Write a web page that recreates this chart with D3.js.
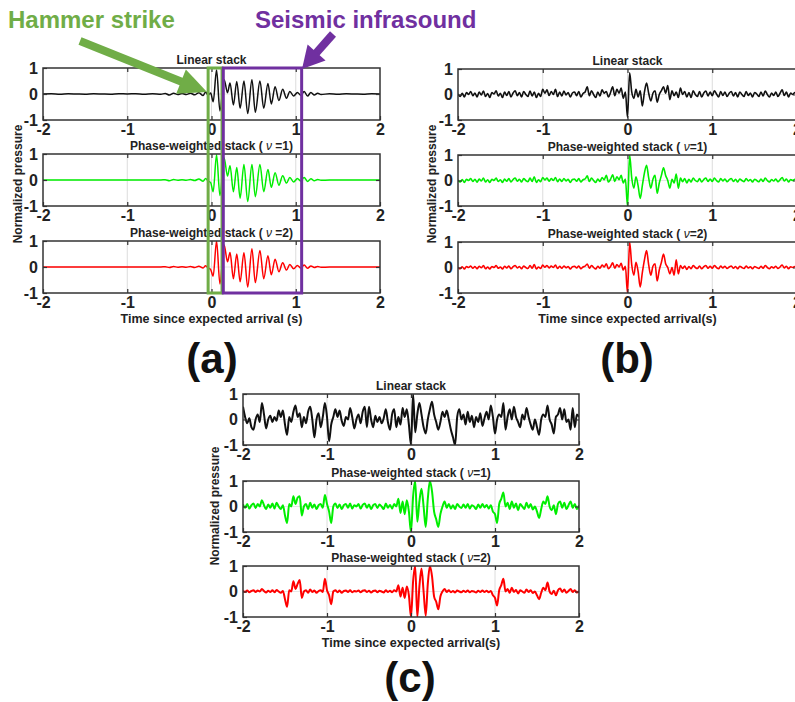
<!DOCTYPE html>
<html>
<head>
<meta charset="utf-8">
<script src="https://cdn.jsdelivr.net/npm/d3@7"></script>
<style>
  body { margin: 0; background: #fff; }
  text { font-family: "Liberation Sans", Arial, Helvetica, sans-serif; }
</style>
</head>
<body>
<div id="chart"></div>
<script>
// ---- data ----------------------------------------------------------------
// Panel (a): times of the samples / turning points (s)
const timesA = [
  -2, -1.9, -1.8, -1.7, -1.6, -1.5, -1.4, -1.3, -1.2, -1.1, -1, -0.9, -0.8, -0.7, -0.6,
  -0.55, -0.5, -0.45, -0.4, -0.35, -0.3, -0.25, -0.2, -0.15, -0.1,
  -0.07, -0.04, -0.01,
  0.02, 0.06, 0.1,
  0.15, 0.19, 0.22, 0.26, 0.3, 0.34, 0.385, 0.43, 0.48, 0.52,
  0.575, 0.62, 0.67, 0.71, 0.755, 0.8, 0.845, 0.89, 0.93, 0.975,
  1.02, 1.06, 1.1, 1.14, 1.18, 1.22, 1.26, 1.3,
  1.4, 1.5, 1.6, 1.7, 1.8, 1.9, 2
];
const linearA = [
  0, 0.01, -0.01, 0.01, 0, -0.01, 0.01, 0, -0.01, 0.01, 0, 0.01, -0.01, 0.01, -0.01,
  0.02, -0.04, 0.03, -0.02, 0.02, -0.02, 0.03, -0.03, 0.05, -0.06,
  0.08, -0.05, 0.04,
  -0.3, 0.92, -0.65,
  0.55, 0.05, 0.42, -0.42, 0.48, -0.55, 0.5, -0.75, 0.55, -0.7,
  0.5, -0.55, 0.4, -0.38, 0.28, -0.25, 0.18, -0.16, 0.1, -0.08,
  0.06, -0.05, 0.1, -0.08, 0.06, -0.04, 0.03, -0.02,
  0.01, -0.01, 0.01, 0, -0.01, 0.01, 0
];
const pws1A = [
  0, 0, 0, 0, 0, 0, 0, 0, 0, 0, 0, 0, 0, 0, 0,
  0.01, -0.03, 0.02, -0.01, 0.01, -0.01, 0.02, -0.02, 0.04, -0.05,
  0.06, -0.04, -0.1,
  -0.45, 0.97, -0.6,
  0.85, 0.15, 0.55, -0.45, 0.48, -0.7, 0.6, -0.83, 0.6, -0.64,
  0.6, -0.45, 0.4, -0.28, 0.28, -0.2, 0.16, -0.12, 0.1, -0.08,
  0.06, -0.04, 0.1, -0.06, 0.05, -0.03, 0.02, -0.01,
  0, 0, 0, 0, 0, 0, 0
];
const pws2A = [
  0, 0, 0, 0, 0, 0, 0, 0, 0, 0, 0, 0, 0, 0, 0,
  0.01, -0.02, 0.02, -0.01, 0.01, -0.01, 0.02, -0.02, 0.03, -0.04,
  0.05, -0.04, -0.1,
  -0.35, 1.0, -0.65,
  0.85, 0.2, 0.56, -0.45, 0.5, -0.57, 0.55, -0.77, 0.7, -0.6,
  0.63, -0.45, 0.43, -0.3, 0.3, -0.18, 0.16, -0.12, 0.1, -0.07,
  0.06, -0.04, 0.08, -0.05, 0.04, -0.02, 0.02, -0.01,
  0, 0, 0, 0, 0, 0, 0
];

// Panels (b) and (c): samples every 0.025 s from -2 s to 2 s
const sampleStart = -2;
const sampleStep = 0.025;

const linearB = [
  0.02, -0.08, 0.05, -0.1, 0.08, 0.0, 0.12, -0.05, 0.06, -0.1,
  0.1, -0.02, 0.14, -0.08, 0.04, -0.12, 0.08, 0.02, 0.15, -0.06,
  0.05, -0.12, 0.1, -0.04, 0.12, -0.1, 0.06, 0.15, -0.05, 0.08,
  -0.1, 0.12, 0.0, -0.08, 0.14, -0.06, 0.1, -0.12, 0.05, -0.08,
  0.2, 0.05, 0.18, -0.04, 0.12, 0.0, 0.2, -0.08, 0.1, -0.06,
  0.14, -0.02, 0.08, -0.1, 0.06, 0.1, -0.05, 0.12, -0.1, 0.04,
  0.1, 0.3, -0.05, 0.15, 0.0, -0.12, 0.1, -0.06, 0.18, 0.05,
  0.12, -0.1, 0.08, 0.3, -0.05, 0.2, 0.05, 0.25, -0.15, 0.1,
  -0.9, 0.85, 0.1, -0.15, 0.2, -0.1, 0.15, -0.45, 0.1, 0.45,
  0.05, -0.25, 0.05, 0.15, -0.3, 0.0, 0.15, 0.3, 0.05, 0.35,
  -0.2, 0.15, -0.05, 0.1, -0.12, 0.25, 0.0, 0.12, -0.1, 0.08,
  -0.12, 0.15, 0.0, -0.08, 0.12, -0.1, 0.06, 0.14, -0.06, 0.1,
  -0.05, 0.15, 0.02, -0.1, 0.12, -0.04, 0.1, -0.08, 0.05, 0.12,
  -0.06, 0.08, -0.1, 0.1, 0.0, -0.08, 0.12, -0.04, 0.06, -0.1,
  0.08, 0.02, -0.08, 0.1, -0.06, 0.14, 0.0, -0.1, 0.06, -0.04,
  0.1, -0.08, 0.05, 0.18, -0.04, 0.1, -0.1, 0.06, 0.0, 0.08,
  -0.02
];
const pws1B = [
  0.02, -0.06, 0.04, -0.08, 0.05, 0.0, 0.08, -0.04, 0.05, -0.07,
  0.06, -0.02, 0.1, -0.06, 0.03, -0.08, 0.05, 0.0, 0.1, -0.04,
  0.03, -0.08, 0.06, -0.03, 0.08, -0.06, 0.04, 0.1, -0.03, 0.05,
  -0.06, 0.08, 0.0, -0.05, 0.1, -0.04, 0.15, -0.08, 0.03, -0.05,
  0.12, 0.02, 0.1, -0.03, 0.08, 0.0, 0.12, -0.05, 0.06, -0.04,
  0.08, -0.02, 0.05, -0.08, 0.04, 0.06, -0.03, 0.08, -0.06, 0.03,
  0.06, 0.18, -0.04, 0.1, 0.0, -0.08, 0.06, -0.04, 0.12, 0.03,
  0.2, -0.06, 0.05, 0.22, -0.04, 0.15, 0.03, 0.2, -0.1, 0.06,
  -1.0, 1.0, 0.1, -0.3, 0.15, -0.2, -0.7, -0.2, 0.3, 0.6,
  0.1, -0.3, 0.05, 0.2, -0.5, -0.1, 0.2, 0.5, 0.2, 0.0,
  -0.3, 0.05, -0.1, 0.25, -0.3, 0.1, -0.05, 0.08, -0.1, 0.05,
  -0.06, 0.1, 0.0, -0.05, 0.08, -0.06, 0.04, 0.1, -0.04, 0.06,
  -0.04, 0.1, 0.0, -0.06, 0.08, -0.02, 0.06, -0.05, 0.03, 0.08,
  -0.04, 0.05, -0.06, 0.06, 0.0, -0.05, 0.08, -0.02, 0.04, -0.06,
  0.05, 0.0, -0.05, 0.06, -0.04, 0.1, 0.0, -0.06, 0.04, -0.02,
  0.06, -0.05, 0.03, 0.12, -0.02, 0.06, -0.06, 0.04, 0.0, 0.05,
  -0.02
];
const pws2B = [
  0.01, -0.05, 0.03, -0.06, 0.04, 0.0, 0.06, -0.03, 0.04, -0.05,
  0.05, -0.01, 0.08, -0.05, 0.02, -0.06, 0.04, 0.0, 0.08, -0.03,
  0.02, -0.06, 0.05, -0.02, 0.06, -0.05, 0.03, 0.08, -0.02, 0.04,
  -0.05, 0.06, 0.0, -0.04, 0.08, -0.03, 0.12, -0.06, 0.02, -0.04,
  0.1, 0.01, 0.08, -0.02, 0.06, 0.0, 0.1, -0.04, 0.05, -0.03,
  0.06, -0.01, 0.04, -0.06, 0.03, 0.05, -0.02, 0.06, -0.05, 0.02,
  0.05, 0.14, -0.03, 0.08, 0.0, -0.06, 0.05, -0.03, 0.1, 0.02,
  0.15, -0.05, 0.04, 0.18, -0.03, 0.12, 0.02, 0.16, -0.1, 0.05,
  -1.0, 1.0, 0.1, -0.3, 0.2, -0.15, -0.76, -0.2, 0.3, 0.66,
  0.1, -0.3, 0.05, 0.15, -0.53, -0.1, 0.2, 0.53, 0.15, 0.0,
  -0.25, 0.0, -0.3, 0.3, -0.25, 0.08, -0.04, 0.06, -0.08, 0.04,
  -0.05, 0.08, 0.0, -0.04, 0.06, -0.05, 0.03, 0.08, -0.03, 0.05,
  -0.03, 0.08, 0.0, -0.05, 0.06, -0.02, 0.05, -0.04, 0.02, 0.06,
  -0.03, 0.04, -0.05, 0.05, 0.0, -0.04, 0.06, -0.02, 0.03, -0.05,
  0.04, 0.0, -0.04, 0.05, -0.03, 0.08, 0.0, -0.05, 0.03, -0.02,
  0.05, -0.04, 0.02, 0.1, -0.02, 0.05, -0.05, 0.03, 0.0, 0.04,
  -0.01
];

const linearC = [
  0.5, 0.1, -0.15, 0.05, -0.3, -0.4, 0.0, 0.2, -0.1, 0.65,
  0.2, -0.35, 0.0, 0.15, -0.1, 0.1, -0.05, 0.35, 0.1, 0.35,
  -0.2, -0.6, 0.1, -0.1, 0.3, 0.55, 0.1, 0.25, -0.3, 0.1,
  -0.15, 0.3, 0.5, 0.0, -0.7, 0.0, 0.25, -0.3, 0.1, 0.65,
  0.1, -0.85, -0.2, 0.1, 0.4, 0.1, 0.35, -0.05, -0.25, 0.1,
  0.0, 0.45, 0.1, -0.35, 0.0, 0.2, -0.15, 0.3, 0.5, -0.3,
  0.5, 0.0, -0.3, 0.15, -0.1, 0.1, -0.15, 0.05, 0.4, -0.1,
  -0.4, 0.2, 0.4, -0.3, 0.1, -0.2, 0.45, 0.1, 0.4, -0.2,
  -1.0, 1.0, -0.5, 0.2, 0.65, 0.2, -0.3, -0.55, 0.0, 0.4,
  0.7, 0.2, -0.1, -0.4, -0.1, 0.3, 0.1, 0.35, 0.0, -0.4,
  -0.7, -1.0, 0.1, 0.4, 0.0, 0.2, -0.2, 0.3, -0.1, 0.15,
  -0.3, 0.1, -0.1, 0.25, -0.25, 0.05, 0.3, 0.0, 0.55, 0.1,
  -0.55, 0.0, 0.2, 0.1, 0.65, -0.4, 0.1, 0.4, 0.0, 0.5,
  0.1, -0.1, -0.3, 0.2, 0.0, 0.45, 0.1, -0.2, -0.4, 0.0,
  -0.3, -0.6, 0.0, 0.2, 0.1, 0.55, 0.0, -0.2, -0.55, 0.1,
  0.2, 0.45, 0.0, 0.4, -0.1, 0.0, -0.4, 0.45, -0.3, 0.2,
  0.1
];
const pws1C = [
  0.08, -0.05, 0.1, -0.08, 0.05, 0.12, -0.06, 0.1, 0.0, 0.25,
  0.05, -0.1, 0.08, -0.05, 0.12, -0.08, 0.15, 0.0, -0.1, 0.05,
  -0.35, -0.65, 0.1, 0.0, 0.4, 0.1, 0.35, 0.4, -0.35, 0.0,
  0.1, -0.1, 0.15, -0.05, 0.08, -0.1, 0.05, 0.1, -0.05, 0.45,
  0.1, -0.2, -0.65, 0.0, 0.12, -0.06, 0.08, -0.1, 0.05, 0.1,
  -0.05, 0.12, -0.08, 0.05, 0.0, 0.1, -0.08, 0.06, 0.12, -0.05,
  0.08, -0.1, 0.05, 0.1, -0.06, 0.08, 0.0, -0.1, 0.12, -0.05,
  0.06, -0.08, 0.1, 0.0, 0.3, -0.25, 0.2, -0.3, 0.25, -0.2,
  -1.0, 0.4, 1.0, -0.6, 0.2, 0.7, 0.0, -0.8, 0.3, 1.0,
  0.6, -0.2, -0.5, -0.8, -0.3, 0.0, 0.2, -0.05, 0.1, -0.08,
  0.05, -0.1, 0.1, 0.0, -0.06, 0.08, -0.05, 0.1, -0.08, 0.05,
  0.0, -0.1, 0.08, -0.05, 0.1, -0.04, 0.06, -0.08, 0.05, -0.2,
  -0.3, -0.65, 0.1, 0.3, 0.55, 0.0, 0.15, -0.1, 0.2, -0.05,
  0.12, -0.15, 0.1, 0.0, -0.1, 0.15, -0.05, 0.1, -0.12, 0.0,
  -0.2, -0.45, -0.1, 0.2, 0.1, 0.4, 0.0, -0.15, 0.05, -0.3,
  0.1, 0.2, -0.05, 0.15, -0.1, 0.05, 0.2, -0.05, 0.1, -0.1,
  0.05
];
const pws2C = [
  0.03, -0.02, 0.04, -0.03, 0.02, 0.05, -0.02, 0.04, 0.0, 0.1,
  0.02, -0.04, 0.03, -0.02, 0.05, -0.03, 0.06, 0.0, -0.05, 0.02,
  -0.3, -0.6, 0.05, 0.0, 0.4, 0.1, 0.3, 0.45, -0.25, 0.0,
  0.05, -0.05, 0.08, -0.02, 0.04, -0.05, 0.02, 0.05, -0.02, 0.5,
  0.05, -0.15, -0.5, 0.0, 0.05, -0.03, 0.04, -0.05, 0.02, 0.04,
  -0.02, 0.05, -0.03, 0.02, 0.0, 0.04, -0.03, 0.03, 0.05, -0.02,
  0.03, -0.04, 0.02, 0.04, -0.03, 0.03, 0.0, -0.04, 0.05, -0.02,
  0.03, -0.03, 0.05, 0.0, 0.25, -0.2, 0.15, -0.25, 0.2, -0.15,
  -1.0, 0.4, 1.0, -1.0, 0.2, 0.9, 0.0, -0.95, 0.3, 1.0,
  0.6, -0.2, -0.4, -0.7, -0.2, 0.0, 0.1, -0.02, 0.05, -0.03,
  0.02, -0.04, 0.04, 0.0, -0.03, 0.03, -0.02, 0.04, -0.03, 0.02,
  0.0, -0.04, 0.03, -0.02, 0.04, -0.02, 0.03, -0.03, 0.02, -0.15,
  -0.25, -0.55, 0.05, 0.25, 0.5, 0.0, 0.1, -0.05, 0.15, -0.02,
  0.06, -0.08, 0.05, 0.0, -0.05, 0.08, -0.02, 0.05, -0.06, 0.0,
  -0.15, -0.3, -0.05, 0.15, 0.05, 0.35, 0.0, -0.1, 0.03, -0.15,
  0.05, 0.12, -0.02, 0.08, -0.05, 0.02, 0.1, -0.02, 0.05, -0.04,
  0.02
];

const xTicks = [-2, -1, 0, 1, 2];
const yTicks = [-1, 0, 1];
const gridX = [-1, 0, 1];
// annotation windows in panel (a), seconds
const hammerWindow = [-0.04, 0.125];
const infrasoundWindow = [0.14, 1.07];

// ---- drawing -------------------------------------------------------------
const W = 795, H = 702;
const svg = d3.select("#chart").append("svg").attr("width", W).attr("height", H);

const BLACK = "#111", GREEN = "#00ee00", RED = "#ff0000";
const TEXT = "#222";

function uniformTimes(n) {
  return d3.range(n).map(i => sampleStart + i * sampleStep);
}

function drawPanel(p) {
  const x = d3.scaleLinear().domain([-2, 2]).range([p.left, p.right]);
  const w = p.right - p.left;

  p.rows.forEach((row, k) => {
    const top = p.tops[k];
    const y = d3.scaleLinear().domain([-1, 1]).range([top + p.h, top]);
    const g = svg.append("g");
    const clipId = "clip-" + p.id + "-" + k;
    svg.append("clipPath").attr("id", clipId)
      .append("rect").attr("x", p.left).attr("y", top).attr("width", w).attr("height", p.h);

    // grid
    g.selectAll(".gx").data(gridX).enter().append("line")
      .attr("x1", d => x(d)).attr("x2", d => x(d))
      .attr("y1", top).attr("y2", top + p.h)
      .attr("stroke", "#dcdcdc").attr("stroke-width", 1);
    g.append("line")
      .attr("x1", p.left).attr("x2", p.right).attr("y1", y(0)).attr("y2", y(0))
      .attr("stroke", "#e6e6e6").attr("stroke-width", 1);

    // trace
    const times = row.times;
    const line = d3.line()
      .x((d, i) => x(times[i]))
      .y(d => y(d))
      .curve(d3.curveMonotoneX);
    g.append("path")
      .datum(row.values)
      .attr("clip-path", "url(#" + clipId + ")")
      .attr("d", line)
      .attr("fill", "none")
      .attr("stroke", row.color)
      .attr("stroke-width", p.lw)
      .attr("stroke-linejoin", "round");

    // axes (ticks inside, labels outside)
    const bottom = g.append("g").attr("transform", "translate(0," + (top + p.h) + ")")
      .call(d3.axisBottom(x).tickValues(xTicks).tickSize(-4).tickSizeOuter(0).tickPadding(4)
        .tickFormat(d => String(d)));
    const topAx = g.append("g").attr("transform", "translate(0," + top + ")")
      .call(d3.axisTop(x).tickValues(gridX).tickSize(-4).tickSizeOuter(0).tickFormat(""));
    const left = g.append("g").attr("transform", "translate(" + p.left + ",0)")
      .call(d3.axisLeft(y).tickValues(yTicks).tickSize(-4).tickSizeOuter(0).tickPadding(5)
        .tickFormat(d => String(d)));
    const right = g.append("g").attr("transform", "translate(" + p.right + ",0)")
      .call(d3.axisRight(y).tickValues([0]).tickSize(-4).tickSizeOuter(0).tickFormat(""));
    [bottom, topAx, left, right].forEach(a => {
      a.select(".domain").remove();
      a.selectAll("line").attr("stroke", "#333").attr("stroke-width", 1.2);
      a.selectAll("text")
        .attr("fill", TEXT)
        .style("font-size", "16px")
        .style("font-weight", "bold")
        .style("font-family", '"Liberation Sans", Arial, sans-serif');
    });

    // frame
    g.append("rect")
      .attr("x", p.left).attr("y", top).attr("width", w).attr("height", p.h)
      .attr("fill", "none").attr("stroke", "#333").attr("stroke-width", 1.5);

    // title
    const t = g.append("text")
      .attr("x", (p.left + p.right) / 2).attr("y", top - 4)
      .attr("text-anchor", "middle")
      .attr("fill", TEXT)
      .style("font-size", "12px").style("font-weight", "bold");
    t.append("tspan").text(row.title[0]);
    if (row.title.length > 1) {
      t.append("tspan").text(row.title[1]).style("font-style", "italic").style("font-weight", "normal");
      t.append("tspan").text(row.title[2]);
    }
  });

  // x label
  svg.append("text")
    .attr("x", (p.left + p.right) / 2).attr("y", p.tops[2] + p.h + 30)
    .attr("text-anchor", "middle").attr("fill", TEXT)
    .style("font-size", "12.5px").style("font-weight", "bold")
    .text(p.xlabel);

  // y label
  svg.append("text")
    .attr("transform", "translate(" + p.ylabelX + "," + p.ylabelY + ") rotate(-90)")
    .attr("text-anchor", "middle").attr("dy", "0.35em").attr("fill", TEXT)
    .style("font-size", "12px").style("font-weight", "bold")
    .text("Normalized pressure");

  // panel letter
  svg.append("text")
    .attr("x", p.letterX).attr("y", p.letterY)
    .attr("text-anchor", "middle").attr("fill", "#111")
    .style("font-size", "42px").style("font-weight", "bold")
    .text(p.letter);

  return x;
}

const nB = linearB.length;
const timesB = uniformTimes(nB);
const timesC = uniformTimes(linearC.length);

const xA = drawPanel({
  id: "a", left: 43, right: 380, tops: [68, 154, 241], h: 52, lw: 1.5,
  xlabel: "Time since expected arrival (s)", ylabelX: 18, ylabelY: 184,
  letter: "(a)", letterX: 212, letterY: 373,
  rows: [
    { times: timesA, values: linearA, color: BLACK, title: ["Linear stack"] },
    { times: timesA, values: pws1A, color: GREEN, title: ["Phase-weighted stack ( ", "ν", " =1)"] },
    { times: timesA, values: pws2A, color: RED, title: ["Phase-weighted stack ( ", "ν", " =2)"] }
  ]
});

drawPanel({
  id: "b", left: 458, right: 797, tops: [69, 155, 242], h: 51, lw: 1.6,
  xlabel: "Time since expected arrival(s)", ylabelX: 432, ylabelY: 184,
  letter: "(b)", letterX: 627, letterY: 373,
  rows: [
    { times: timesB, values: linearB, color: BLACK, title: ["Linear stack"] },
    { times: timesB, values: pws1B, color: GREEN, title: ["Phase-weighted stack ( ", "ν", "=1)"] },
    { times: timesB, values: pws2B, color: RED, title: ["Phase-weighted stack ( ", "ν", "=2)"] }
  ]
});

drawPanel({
  id: "c", left: 243, right: 579, tops: [394, 481, 566], h: 51, lw: 2,
  xlabel: "Time since expected arrival(s)", ylabelX: 215, ylabelY: 506,
  letter: "(c)", letterX: 410, letterY: 692,
  rows: [
    { times: timesC, values: linearC, color: BLACK, title: ["Linear stack"] },
    { times: timesC, values: pws1C, color: GREEN, title: ["Phase-weighted stack ( ", "ν", "=1)"] },
    { times: timesC, values: pws2C, color: RED, title: ["Phase-weighted stack ( ", "ν", "=2)"] }
  ]
});

// ---- annotations on panel (a) ---------------------------------------------
const ANN_GREEN = "#70ad47", ANN_PURPLE = "#7030a0";
const boxTop = 68, boxBottom = 293;

svg.append("rect")
  .attr("x", xA(hammerWindow[0])).attr("y", boxTop)
  .attr("width", xA(hammerWindow[1]) - xA(hammerWindow[0])).attr("height", boxBottom - boxTop)
  .attr("fill", "none").attr("stroke", ANN_GREEN).attr("stroke-width", 3);
svg.append("rect")
  .attr("x", xA(infrasoundWindow[0])).attr("y", boxTop)
  .attr("width", xA(infrasoundWindow[1]) - xA(infrasoundWindow[0])).attr("height", boxBottom - boxTop)
  .attr("fill", "none").attr("stroke", ANN_PURPLE).attr("stroke-width", 3);

function arrow(x0, y0, x1, y1, color, headLen, headW, shaftW) {
  const dx = x1 - x0, dy = y1 - y0, len = Math.hypot(dx, dy);
  const ux = dx / len, uy = dy / len, nx = -uy, ny = ux;
  const bx = x1 - ux * headLen, by = y1 - uy * headLen;
  svg.append("line")
    .attr("x1", x0).attr("y1", y0).attr("x2", bx + ux * 2).attr("y2", by + uy * 2)
    .attr("stroke", color).attr("stroke-width", shaftW);
  svg.append("path")
    .attr("d", "M" + x1 + "," + y1 +
      "L" + (bx + nx * headW / 2) + "," + (by + ny * headW / 2) +
      "L" + (bx - nx * headW / 2) + "," + (by - ny * headW / 2) + "Z")
    .attr("fill", color);
}
arrow(80, 41, 207, 92, ANN_GREEN, 28, 26, 8);
arrow(333, 34, 302, 69, ANN_PURPLE, 22, 24, 8);

svg.append("text").attr("x", 8).attr("y", 28)
  .attr("fill", ANN_GREEN).style("font-size", "24px").style("font-weight", "bold")
  .text("Hammer strike");
svg.append("text").attr("x", 255).attr("y", 28)
  .attr("fill", ANN_PURPLE).style("font-size", "24px").style("font-weight", "bold")
  .text("Seismic infrasound");
</script>
</body>
</html>
